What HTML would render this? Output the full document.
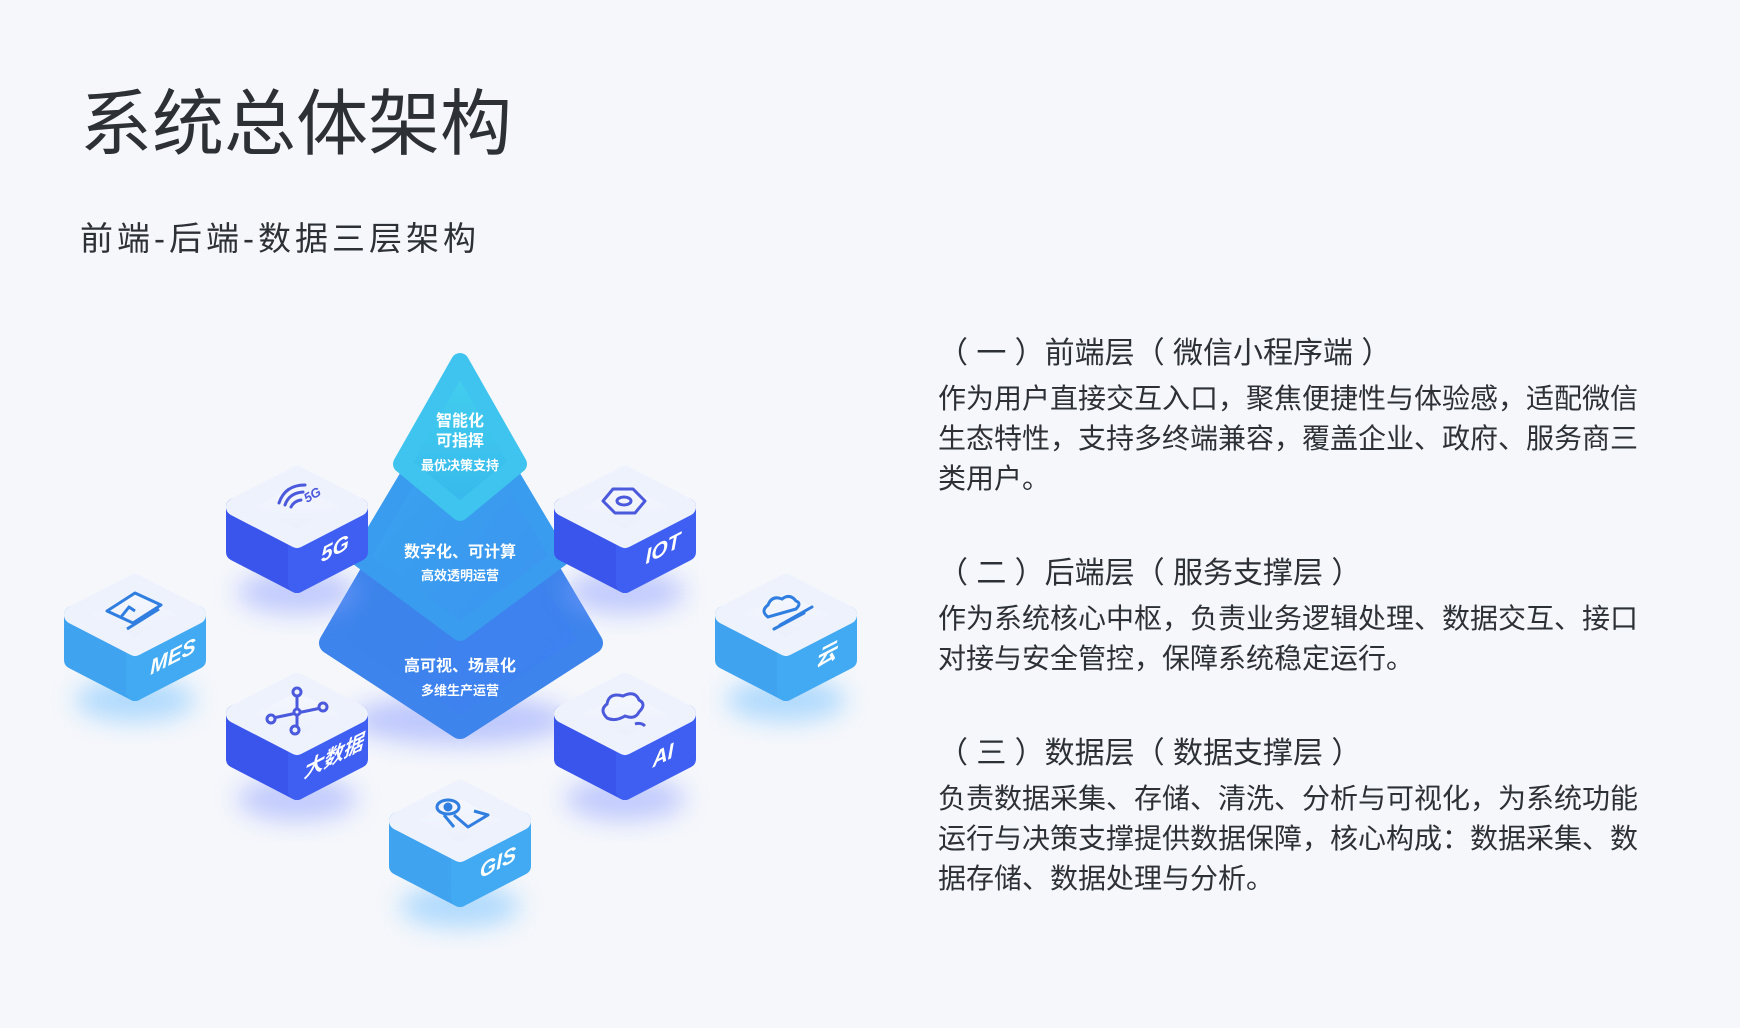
<!DOCTYPE html>
<html><head><meta charset="utf-8">
<style>
html,body{margin:0;padding:0;background:#f5f7fb;}
body{width:1740px;height:1028px;position:relative;overflow:hidden;font-family:"Liberation Sans","Noto Sans CJK SC",sans-serif;color:#2b2f36;}
.t{position:absolute;white-space:nowrap;}
#title{left:80px;top:80px;font-size:72px;line-height:90px;color:#2d3035;}
#sub{left:80px;top:217px;font-size:33px;line-height:44px;color:#2d3035;letter-spacing:4px;}
.h{left:938px;font-size:30px;line-height:40px;color:#2d3035;}
.b{left:938px;font-size:28px;line-height:40px;color:#2d3035;}
svg{position:absolute;left:0;top:0;}
</style></head><body>
<div class="t" id="title">系统总体架构</div>
<div class="t" id="sub">前端-后端-数据三层架构</div>

<div class="t h" style="top:334px;">（ 一 ）前端层（ 微信小程序端 ）</div>
<div class="t b" style="top:379px;">作为用户直接交互入口，聚焦便捷性与体验感，适配微信<br>生态特性，支持多终端兼容，覆盖企业、政府、服务商三<br>类用户。</div>
<div class="t h" style="top:554px;">（ 二 ）后端层（ 服务支撑层 ）</div>
<div class="t b" style="top:599px;">作为系统核心中枢，负责业务逻辑处理、数据交互、接口<br>对接与安全管控，保障系统稳定运行。</div>
<div class="t h" style="top:734px;">（ 三 ）数据层（ 数据支撑层 ）</div>
<div class="t b" style="top:779px;">负责数据采集、存储、清洗、分析与可视化，为系统功能<br>运行与决策支撑提供数据保障，核心构成：数据采集、数<br>据存储、数据处理与分析。</div>

<svg width="1740" height="1028" viewBox="0 0 1740 1028">
<defs>
<filter id="blur" x="-50%" y="-50%" width="200%" height="200%"><feGaussianBlur stdDeviation="12"/></filter>
<linearGradient id="gTop" x1="0" y1="0" x2="0" y2="1"><stop offset="0" stop-color="#44d0ee"/><stop offset="1" stop-color="#36b8ec"/></linearGradient>
<linearGradient id="gMid" x1="0" y1="0" x2="1" y2="1"><stop offset="0" stop-color="#3aa6ee"/><stop offset="1" stop-color="#3b93f0"/></linearGradient>
<linearGradient id="gBot" x1="0" y1="0" x2="1" y2="1"><stop offset="0" stop-color="#3b86e6"/><stop offset="1" stop-color="#3e80f2"/></linearGradient>
<linearGradient id="face" x1="0" y1="0" x2="0" y2="1"><stop offset="0" stop-color="#f7f9fe"/><stop offset="1" stop-color="#e9eefc"/></linearGradient>

<g id="tileD">
<ellipse cx="0" cy="85" rx="60" ry="22" fill="#8fa0ff" opacity="0.5" filter="url(#blur)"/>
<polygon points="-62,0 0,32 0,77 -62,45" fill="#3a55ec" stroke="#3a55ec" stroke-width="18" stroke-linejoin="round"/>
<polygon points="0,32 62,0 62,45 0,77" fill="#3f5ff2" stroke="#3f5ff2" stroke-width="18" stroke-linejoin="round"/>
<polygon points="0,-32 62,0 0,32 -62,0" fill="url(#face)" stroke="#eef2fd" stroke-width="18" stroke-linejoin="round"/>
</g>
<g id="tileL">
<ellipse cx="0" cy="85" rx="60" ry="22" fill="#7cc4ff" opacity="0.55" filter="url(#blur)"/>
<polygon points="-62,0 0,32 0,77 -62,45" fill="#3fa3ef" stroke="#3fa3ef" stroke-width="18" stroke-linejoin="round"/>
<polygon points="0,32 62,0 62,45 0,77" fill="#42aaf2" stroke="#42aaf2" stroke-width="18" stroke-linejoin="round"/>
<polygon points="0,-32 62,0 0,32 -62,0" fill="url(#face)" stroke="#eef2fd" stroke-width="18" stroke-linejoin="round"/>
</g>
</defs>

<!-- pyramid -->
<ellipse cx="460" cy="720" rx="110" ry="25" fill="#7c90ff" opacity="0.45" filter="url(#blur)"/>
<path d="M460,420 L330,643 L460,728 L592,643 Z" fill="url(#gBot)" stroke="#3d84ec" stroke-width="22" stroke-linejoin="round"/>
<path d="M460,390 L360,558 L460,632 L560,558 Z" fill="url(#gMid)" stroke="#3a9cef" stroke-width="18" stroke-linejoin="round"/>
<path d="M460,362 L402,464 L460,512 L518,464 Z" fill="url(#gTop)" stroke="#3ec4ee" stroke-width="18" stroke-linejoin="round"/>
<g fill="#ffffff" font-weight="bold" text-anchor="middle" font-family="'Liberation Sans','Noto Sans CJK SC',sans-serif">
<text x="460" y="426" font-size="16">智能化</text>
<text x="460" y="446" font-size="16">可指挥</text>
<text x="460" y="470" font-size="13">最优决策支持</text>
<text x="460" y="557" font-size="16">数字化、可计算</text>
<text x="460" y="580" font-size="13">高效透明运营</text>
<text x="460" y="671" font-size="16">高可视、场景化</text>
<text x="460" y="695" font-size="13">多维生产运营</text>
</g>

<!-- tiles -->
<g font-family="'Liberation Sans','Noto Sans CJK SC',sans-serif" font-weight="bold" font-style="italic" fill="#fff">
<g transform="translate(297,507)"><use href="#tileD"/>
 <g fill="none" stroke="#4b59dc" stroke-width="3" stroke-linecap="round"><path d="M-18,-4 q6,-18 26,-18"/><path d="M-12,-2 q4,-12 18,-13"/><path d="M-6,0 q3,-6 10,-7"/></g>
 <text x="10" y="-4" font-size="13" fill="#4b59dc" transform="rotate(-30 10 -4)">5G</text>
 <text transform="matrix(1,-0.516,0,1,0,0)" x="38" y="68" font-size="21" text-anchor="middle">5G</text></g>
<g transform="translate(625,507)"><use href="#tileD"/>
 <polygon points="-22,-6 -12,-18 8,-18 20,-6 10,6 -10,6" fill="none" stroke="#4b59dc" stroke-width="3" stroke-linejoin="round"/><ellipse cx="-1" cy="-6" rx="7" ry="4" fill="none" stroke="#4b59dc" stroke-width="3"/>
 <text transform="matrix(1,-0.516,0,1,0,0)" x="38" y="68" font-size="21" text-anchor="middle">IOT</text></g>
<g transform="translate(135,615)"><use href="#tileL"/>
 <g fill="none" stroke="#2f7ee0" stroke-width="3" stroke-linejoin="round"><polygon points="-28,-4 0,-22 26,-10 -2,8"/><path d="M-14,2 l8,-10 l6,4"/><path d="M-8,14 L24,-6"/></g>
 <text transform="matrix(1,-0.516,0,1,0,0)" x="38" y="68" font-size="21" text-anchor="middle">MES</text></g>
<g transform="translate(786,615)"><use href="#tileL"/>
 <g fill="none" stroke="#2f7ee0" stroke-width="3" stroke-linecap="round"><path d="M-18,2 q-8,-6 0,-12 q4,-10 14,-6 q8,-6 14,2 q6,2 0,8 Z"/><path d="M-6,10 L26,-8"/><path d="M-12,14 L18,-2"/></g>
 <text transform="matrix(1,-0.516,0,1,0,0)" x="40" y="68" font-size="21" text-anchor="middle">云</text></g>
<g transform="translate(297,714)"><use href="#tileD"/>
 <g fill="none" stroke="#4b59dc" stroke-width="3"><path d="M-24,4 L24,-6 M0,-22 L0,14"/><circle cx="-26" cy="5" r="4" fill="#eef2fd"/><circle cx="26" cy="-7" r="4" fill="#eef2fd"/><circle cx="0" cy="-22" r="4" fill="#eef2fd"/><circle cx="-2" cy="16" r="4" fill="#eef2fd"/><circle cx="0" cy="-2" r="3" fill="#eef2fd"/></g>
 <text transform="matrix(1,-0.516,0,1,0,0)" x="36" y="68" font-size="20" text-anchor="middle">大数据</text></g>
<g transform="translate(625,714)"><use href="#tileD"/>
 <path d="M-18,4 q-8,-8 0,-14 q2,-12 16,-8 q12,-6 16,4 q8,4 0,12 q-4,8 -14,4 q-10,6 -18,2 Z M10,10 q6,-2 10,2" fill="none" stroke="#4b59dc" stroke-width="3"/>
 <text transform="matrix(1,-0.516,0,1,0,0)" x="38" y="68" font-size="21" text-anchor="middle">AI</text></g>
<g transform="translate(460,821)"><use href="#tileL"/>
 <g fill="none" stroke="#2f7ee0" stroke-width="3" stroke-linejoin="round"><ellipse cx="-12" cy="-14" rx="11" ry="7"/><circle cx="-12" cy="-14" r="3" fill="#2f7ee0"/><path d="M-6,-6 L8,6 L28,-6 L14,-10"/><path d="M-16,-6 L-6,6"/></g>
 <text transform="matrix(1,-0.516,0,1,0,0)" x="38" y="68" font-size="21" text-anchor="middle">GIS</text></g>
</g>
</svg>
</body></html>
